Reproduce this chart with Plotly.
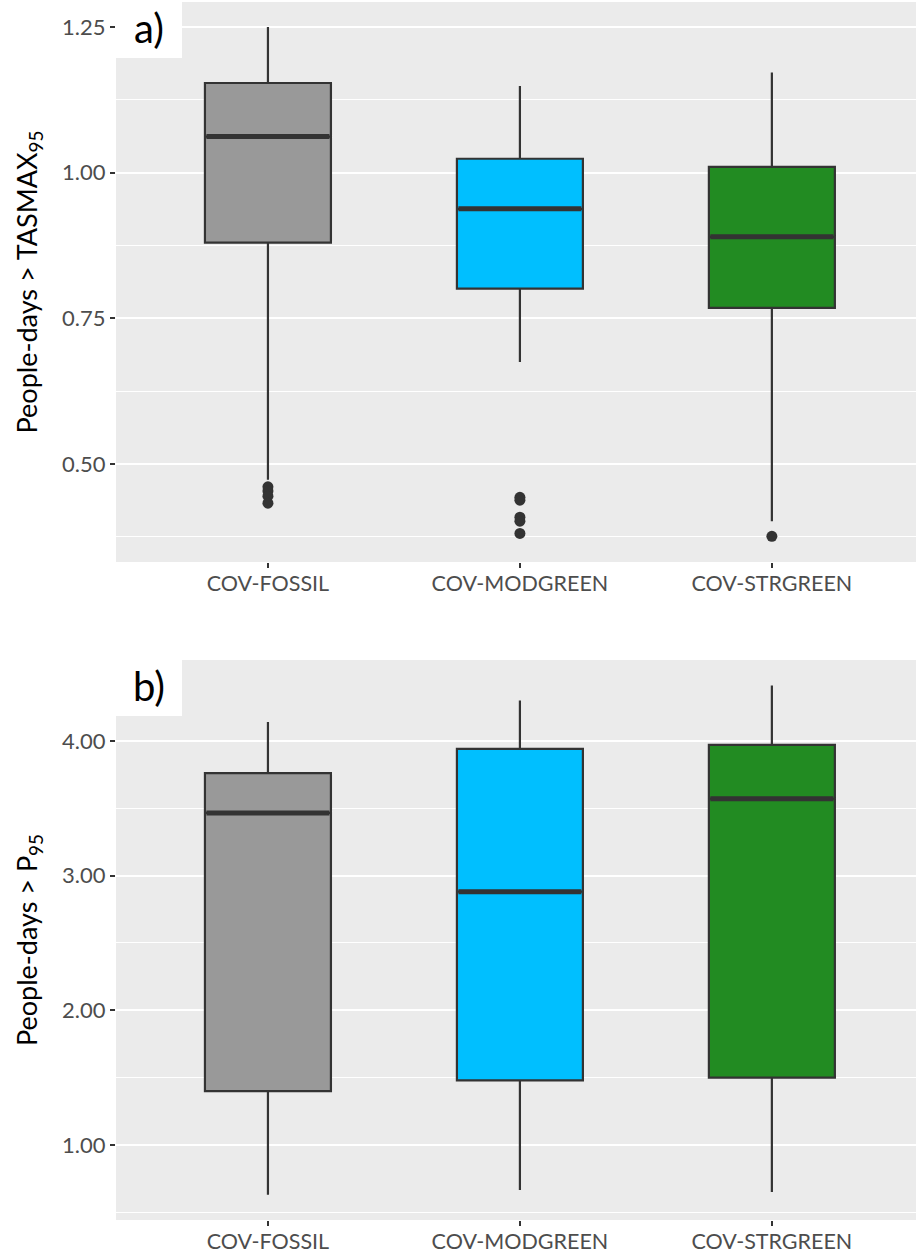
import plotly.graph_objects as go
from plotly.subplots import make_subplots

categories = ["COV-FOSSIL", "COV-MODGREEN", "COV-STRGREEN"]
fill_colors = ["#999999", "#00BFFF", "#228B22"]

# Panel a: People-days > TASMAX95
a_lower = [0.473, 0.675, 0.402]
a_q1 = [0.880, 0.801, 0.768]
a_median = [1.062, 0.938, 0.890]
a_q3 = [1.154, 1.024, 1.010]
a_upper = [1.250, 1.149, 1.172]
a_outlier_cat = ["COV-FOSSIL", "COV-FOSSIL", "COV-FOSSIL", "COV-FOSSIL",
                 "COV-MODGREEN", "COV-MODGREEN", "COV-MODGREEN", "COV-MODGREEN", "COV-MODGREEN",
                 "COV-STRGREEN"]
a_outlier_val = [0.461, 0.454, 0.445, 0.433,
                 0.443, 0.438, 0.409, 0.402, 0.381,
                 0.376]

# Panel b: People-days > P95
b_lower = [0.63, 0.665, 0.65]
b_q1 = [1.40, 1.48, 1.50]
b_median = [3.465, 2.88, 3.57]
b_q3 = [3.76, 3.94, 3.97]
b_upper = [4.14, 4.30, 4.41]

LINE = "#333333"
FONT = "Lato"

fig = make_subplots(rows=2, cols=1, vertical_spacing=98 / 1218)

def add_panel(row, lower, q1, med, q3, upper):
    for i, c in enumerate(categories):
        fig.add_trace(go.Box(x=[c], q1=[q1[i]], median=[med[i]], q3=[q3[i]],
                             lowerfence=[lower[i]], upperfence=[upper[i]],
                             fillcolor=fill_colors[i], line=dict(color=LINE, width=2.2),
                             width=0.5, whiskerwidth=0, boxpoints=False, showlegend=False),
                      row=row, col=1)
        fig.add_trace(go.Box(x=[c], q1=[med[i]], median=[med[i]], q3=[med[i]],
                             lowerfence=[med[i]], upperfence=[med[i]],
                             fillcolor="rgba(0,0,0,0)", line=dict(color=LINE, width=5),
                             width=0.488, whiskerwidth=0, boxpoints=False, showlegend=False),
                      row=row, col=1)

add_panel(1, a_lower, a_q1, a_median, a_q3, a_upper)
fig.add_trace(go.Scatter(x=a_outlier_cat, y=a_outlier_val, mode="markers",
                         marker=dict(color=LINE, size=11), showlegend=False), row=1, col=1)
add_panel(2, b_lower, b_q1, b_median, b_q3, b_upper)

axis_common = dict(showgrid=True, gridcolor="white", gridwidth=2, zeroline=False,
                   ticks="outside", ticklen=5, tickwidth=2, tickcolor=LINE,
                   tickfont=dict(family=FONT, size=22, color="#4D4D4D"), showline=False,
                   automargin=False)

fig.update_xaxes(**axis_common)
fig.update_xaxes(showgrid=False, categoryorder="array", categoryarray=categories,
                 range=[-0.603, 2.572], ticklabelstandoff=-3,
                 tickfont=dict(family=FONT, size=21.5, color="#4D4D4D"))
fig.update_yaxes(**axis_common)
fig.update_yaxes(range=[0.332, 1.293], tickvals=[0.5, 0.75, 1.0, 1.25], tickformat=".2f",
                 minor=dict(showgrid=True, gridcolor="white", gridwidth=1.2,
                            tickvals=[0.375, 0.625, 0.875, 1.125]),
                 title=dict(text="People-days > TASMAX<sub>95</sub>",
                            font=dict(family=FONT, size=27, color="black"), standoff=16),
                 row=1, col=1)
fig.update_yaxes(range=[0.443, 4.60], tickvals=[1, 2, 3, 4], tickformat=".2f",
                 minor=dict(showgrid=True, gridcolor="white", gridwidth=1.2,
                            tickvals=[0.5, 1.5, 2.5, 3.5]),
                 title=dict(text="People-days > P<sub>95</sub>",
                            font=dict(family=FONT, size=27, color="black"), standoff=16),
                 row=2, col=1)

for ax_suffix, label in [("", "a)"), ("2", "b)")]:
    fig.add_shape(type="rect", xref=f"x{ax_suffix} domain", yref=f"y{ax_suffix} domain",
                  x0=0, x1=66 / 800, y0=1 - 56 / 560, y1=1, fillcolor="white",
                  line=dict(width=0), layer="above")
    fig.add_annotation(xref=f"x{ax_suffix} domain", yref=f"y{ax_suffix} domain",
                       x=33 / 800, y=1 - 26 / 560, text=label, showarrow=False,
                       font=dict(family=FONT, size=40, color="black"),
                       xanchor="center", yanchor="middle")

fig.update_layout(width=916, height=1254, margin=dict(l=116, r=0, t=2, b=34),
                  plot_bgcolor="#EBEBEB", paper_bgcolor="white", boxmode="overlay",
                  font=dict(family=FONT))

fig.write_html("out.html", config={"displayModeBar": False},
               post_script="document.body.style.margin='0px';")
